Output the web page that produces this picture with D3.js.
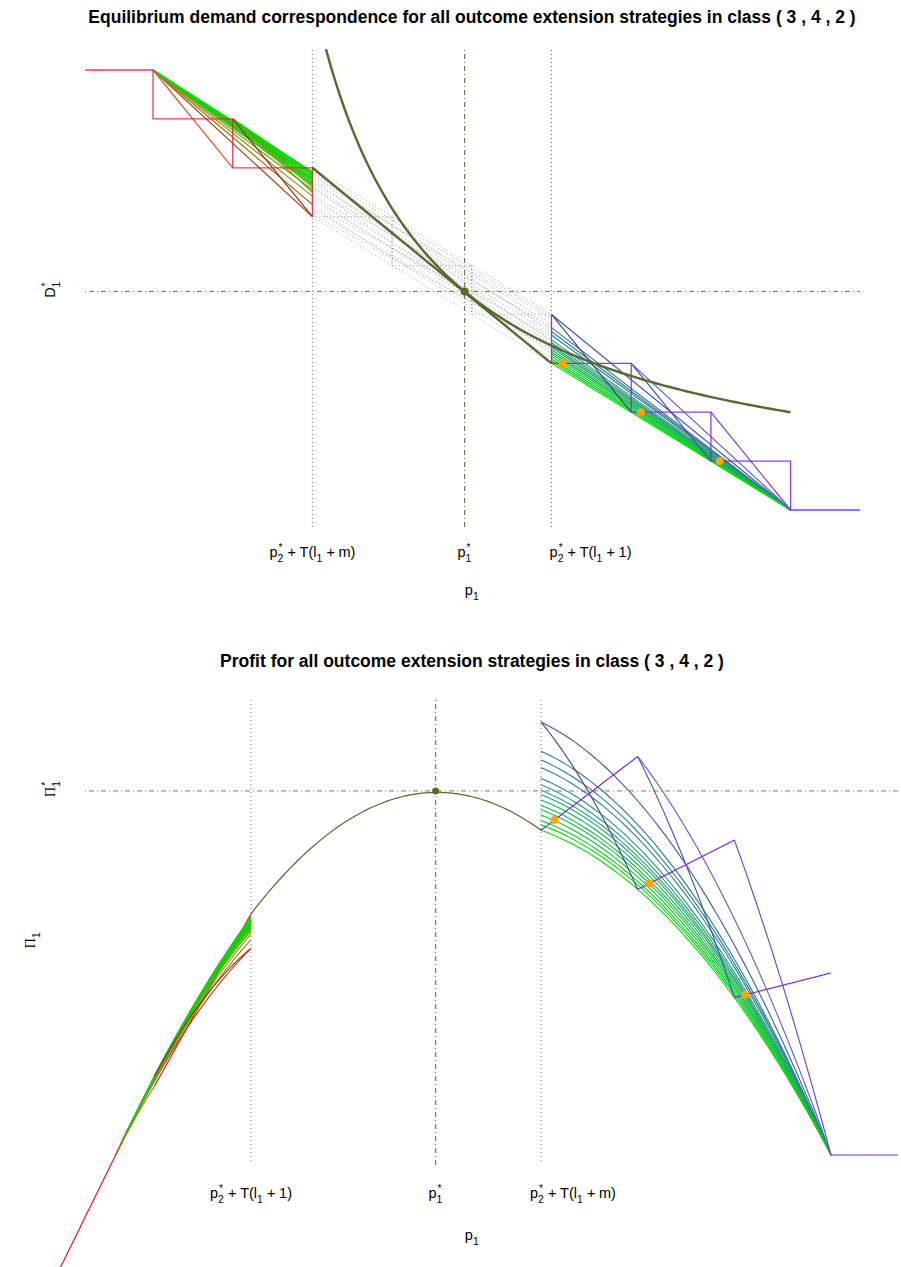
<!DOCTYPE html>
<html>
<head>
<meta charset="utf-8">
<script src="https://cdn.jsdelivr.net/npm/d3@7"></script>
<style>
  body { margin: 0; background: #fff; }
  text { font-family: "Liberation Sans", Arial, Helvetica, sans-serif; fill: #000; }
</style>
</head>
<body>
<svg id="chart" width="901" height="1267"></svg>
<script>
// ---- values (p = price, D = demand, profit = (p - unitCost) * D) ----
const pStar = 4.91, dStar = 4.47;
const unitCost = 1.6;
const piStar = 14.8;

// tick positions and labels
const tickTopP = [3, 4.91, 6.49];
const tickTopLab = ["m", "star", "1"];
const tickBotP = [3, 4.91, 6.33];
const tickBotLab = ["1", "star", "m"];
const refLinesP = [3, 6];

// step demand (left red, middle dotted, right purple)
const redStep = [[0.147, 9], [1, 9], [1, 8], [2, 8], [2, 7], [3, 7], [3, 6]];
const midStep = [[3, 6], [4, 6], [4, 5], [5, 5], [5, 4], [6, 4]];
const purpleStep = [[6, 4], [6, 3], [7, 3], [7, 2], [8, 2], [8, 1], [9, 1], [9, 0], [9.87, 0]];

// left fans: from (1,9) and from (2,8) to D at p = 3
const fanAEnd = [6.0, 6.25, 6.42, 6.55, 6.64, 6.68, 6.72, 6.76, 6.8, 6.84, 6.88, 6.92];
const fanBEnd = [6.5, 6.6, 6.66, 6.72, 6.78, 6.84, 6.9];
// right fan: from D at p = 6 to (9,0)
const fanRStart = [4.0, 3.73, 3.65, 3.58, 3.48, 3.42, 3.37, 3.33, 3.28, 3.23, 3.19, 3.14, 3.09, 3.05, 3.0];

// step diagonals
const diagLeft = [[[1, 9], [2, 7]], [[2, 8], [3, 6]]];
const diagRight = [[[6, 4], [7, 2]], [[7, 3], [8, 1]], [[7, 3], [9, 0]], [[8, 2], [9, 0]]];

// grey dotted band between p = 3 and p = 6
const bandFrom = [7.0, 6.92, 6.85, 6.78, 6.7, 6.62, 6.55, 6.45, 6.35, 6.25, 6.15, 6.0, 6.9, 6.75, 6.6, 6.4, 6.2, 6.05];
const bandTo = [4.0, 3.95, 3.8, 3.9, 3.7, 3.6, 3.75, 3.5, 3.4, 3.55, 3.3, 3.0, 3.65, 3.45, 3.2, 3.25, 3.1, 3.35];

// linear demand through the equilibrium and the iso-profit curve
const eqLine = [[3, 7], [6, 3]];
const isoRange = [3.17, 9];

// orange points
const dotP = [6.14, 7.12, 8.11];
const dotD = [3, 2, 1];

// ---- drawing ----
const svg = d3.select("#chart");
const olive = "#556b2f";

const xT = d3.scaleLinear().domain([1, 9]).range([153, 790.6]);
const yT = d3.scaleLinear().domain([0, 9]).range([510, 70]);
const xB = d3.scaleLinear().domain([6, 9]).range([541, 831]);
const yB = d3.scaleLinear().domain([0, 18]).range([1155, 712.2]);

const profit = (p, d) => (p - unitCost) * d;

function mathLabel(parent, parts, size) {
  const t = parent.append("text").attr("font-size", size);
  let x = 0;
  for (const pt of parts) {
    if (pt.t !== undefined) {
      const s = t.append("tspan").attr("x", x).attr("y", 0).text(pt.t);
      if (pt.serif) s.style("font-family", "'Liberation Serif', 'DejaVu Serif', serif");
      x += s.node().getComputedTextLength();
    } else {
      let w = 0;
      if (pt.sup) {
        const s = t.append("tspan").attr("x", x + 1).attr("y", -size * 0.42).attr("font-size", size * 0.7).text(pt.sup);
        w = Math.max(w, s.node().getComputedTextLength() + 1);
      }
      if (pt.sub) {
        const s = t.append("tspan").attr("x", x).attr("y", size * 0.34).attr("font-size", size * 0.72).text(pt.sub);
        w = Math.max(w, s.node().getComputedTextLength());
      }
      x += w + 0.5;
    }
  }
  t.attr("transform", `translate(${-x / 2},0)`);
  return t;
}

const sp = "\u2005";
const labParts = {
  m: [{t: "p"}, {sup: "*", sub: "2"}, {t: sp + "+" + sp + "T(l"}, {sub: "1"}, {t: sp + "+" + sp + "m)"}],
  "1": [{t: "p"}, {sup: "*", sub: "2"}, {t: sp + "+" + sp + "T(l"}, {sub: "1"}, {t: sp + "+" + sp + "1)"}],
  star: [{t: "p"}, {sup: "*", sub: "1"}]
};
const labSize = 14.5;

// ================= top chart: demand =================
const topG = svg.append("g");

const lineT = d3.line().x(d => xT(d[0])).y(d => yT(d[1]));

// grey dotted band
topG.append("g").selectAll("path").data(d3.zip(bandFrom, bandTo)).join("path")
  .attr("d", d => lineT([[3, d[0]], [6, d[1]]]))
  .attr("fill", "none").attr("stroke", "#a8a8a8").attr("stroke-width", 1)
  .attr("stroke-dasharray", "1,2.5");

// middle step (dotted)
const midG = topG.append("g");
for (let i = 0; i < midStep.length - 1; i++) {
  const a = midStep[i], b = midStep[i + 1];
  const vertical = a[0] === b[0];
  midG.append("path").attr("d", lineT([a, b])).attr("fill", "none")
    .attr("stroke", vertical ? "#b03cc0" : "#b0b0b0").attr("stroke-width", 1.2)
    .attr("stroke-dasharray", "1,2.5");
}

// reference lines
const refG = topG.append("g");
refLinesP.forEach(p => refG.append("line")
  .attr("x1", xT(p)).attr("x2", xT(p)).attr("y1", 50).attr("y2", 527)
  .attr("stroke", "#777").attr("stroke-width", 1).attr("stroke-dasharray", "1,3"));
refG.append("line").attr("x1", xT(pStar)).attr("x2", xT(pStar)).attr("y1", 50).attr("y2", 527)
  .attr("stroke", olive).attr("stroke-width", 1).attr("stroke-dasharray", "1,3,5,3");
refG.append("line").attr("x1", 85).attr("x2", 860).attr("y1", yT(dStar)).attr("y2", yT(dStar))
  .attr("stroke", olive).attr("stroke-width", 1).attr("stroke-opacity", 0.85).attr("stroke-dasharray", "1,3,5,3");

// colour scales
const leftCol = d3.scaleLinear().domain([6.0, 6.25, 6.42, 6.55, 6.7, 6.92])
  .range(["#a84400", "#a07810", "#8c9010", "#60a800", "#20c800", "#00e000"]);
const rightCol = d3.scaleLinear().domain([3.0, 3.2, 3.4, 3.6, 4.0])
  .range(["#00e000", "#10c040", "#20a070", "#2a8090", "#3c5aa8"]);

// left fans
topG.append("g").selectAll("path").data(fanAEnd).join("path")
  .attr("d", d => lineT([[1, 9], [3, d]]))
  .attr("fill", "none").attr("stroke", d => leftCol(d)).attr("stroke-width", 1.2);
topG.append("g").selectAll("path").data(fanBEnd).join("path")
  .attr("d", d => lineT([[2, 8], [3, d]]))
  .attr("fill", "none").attr("stroke", d => leftCol(d)).attr("stroke-width", 1.2);
const diagLCol = ["#e2542a", "#a02828"];
topG.append("g").selectAll("path").data(diagLeft).join("path")
  .attr("d", d => lineT(d))
  .attr("fill", "none").attr("stroke", (d, i) => diagLCol[i]).attr("stroke-width", 1.2);

// right fan
topG.append("g").selectAll("path").data(fanRStart).join("path")
  .attr("d", d => lineT([[6, d], [9, 0]]))
  .attr("fill", "none").attr("stroke", d => rightCol(d)).attr("stroke-width", 1.2);
const diagRCol = ["#4a3c98", "#3f55a8", "#5a5ad8", "#6a3de0"];
topG.append("g").selectAll("path").data(diagRight).join("path")
  .attr("d", d => lineT(d))
  .attr("fill", "none").attr("stroke", (d, i) => diagRCol[i]).attr("stroke-width", 1.2);

// steps
topG.append("path").attr("d", lineT(redStep)).attr("fill", "none")
  .attr("stroke", "#e0203c").attr("stroke-opacity", 0.85).attr("stroke-width", 1.3);
topG.append("path").attr("d", lineT(purpleStep)).attr("fill", "none")
  .attr("stroke", "#7b2be0").attr("stroke-opacity", 0.9).attr("stroke-width", 1.3);

// equilibrium line and iso-profit curve
topG.append("path").attr("d", lineT(eqLine)).attr("fill", "none")
  .attr("stroke", olive).attr("stroke-width", 2.4);
const isoPts = d3.range(0, 101).map(i => {
  const p = isoRange[0] + (isoRange[1] - isoRange[0]) * i / 100;
  return [p, piStar / (p - unitCost)];
});
topG.append("path").attr("d", lineT(isoPts)).attr("fill", "none")
  .attr("stroke", olive).attr("stroke-width", 2.4);

// points
topG.append("circle").attr("cx", xT(pStar)).attr("cy", yT(dStar)).attr("r", 4).attr("fill", olive);
topG.append("g").selectAll("circle").data(d3.zip(dotP, dotD)).join("circle")
  .attr("cx", d => xT(d[0])).attr("cy", d => yT(d[1])).attr("r", 4).attr("fill", "#ffa500");

// labels
svg.append("text").attr("x", 472).attr("y", 23).attr("text-anchor", "middle")
  .attr("font-size", 17.5).attr("font-weight", "bold")
  .text("Equilibrium demand correspondence for all outcome extension strategies in class ( 3 , 4 , 2 )");
tickTopP.forEach((p, i) => {
  const g = svg.append("g").attr("transform", `translate(${xT(p)},557)`);
  mathLabel(g, labParts[tickTopLab[i]], labSize);
});
mathLabel(svg.append("g").attr("transform", "translate(472,595)"), [{t: "p"}, {sub: "1"}], labSize);
mathLabel(svg.append("g").attr("transform", `translate(55,${yT(dStar) - 2}) rotate(-90)`),
  [{t: "D"}, {sup: "*", sub: "1"}], labSize);

// ================= bottom chart: profit =================
const defs = svg.append("defs");
defs.append("clipPath").attr("id", "clipB")
  .append("rect").attr("x", 0).attr("y", 680).attr("width", 898).attr("height", 600);
defs.append("clipPath").attr("id", "clipFan")
  .append("rect").attr("x", 0).attr("y", 680).attr("width", 898).attr("height", yB(0) - 680);
const botG = svg.append("g");
const botC = botG.append("g").attr("clip-path", "url(#clipB)");
const botF = botG.append("g").attr("clip-path", "url(#clipFan)");

const lineB = d3.line().x(d => xB(d[0])).y(d => yB(d[1]));
// profit along a straight demand segment
function profitPath(a, b) {
  const pts = d3.range(0, 61).map(i => {
    const t = i / 60;
    const p = a[0] + (b[0] - a[0]) * t;
    const d = a[1] + (b[1] - a[1]) * t;
    return [p, profit(p, d)];
  });
  return lineB(pts);
}

// reference lines
refLinesP.forEach(p => botG.append("line")
  .attr("x1", xB(p)).attr("x2", xB(p)).attr("y1", 700).attr("y2", 1162)
  .attr("stroke", "#777").attr("stroke-width", 1).attr("stroke-dasharray", "1,3"));
botG.append("line").attr("x1", xB(pStar)).attr("x2", xB(pStar)).attr("y1", 700).attr("y2", 1166)
  .attr("stroke", olive).attr("stroke-width", 1).attr("stroke-dasharray", "1,3,5,3");
botG.append("line").attr("x1", 85).attr("x2", 898).attr("y1", yB(piStar)).attr("y2", yB(piStar))
  .attr("stroke", olive).attr("stroke-width", 1).attr("stroke-opacity", 0.85).attr("stroke-dasharray", "1,3,5,3");

// left fans
botF.append("g").selectAll("path").data(fanAEnd).join("path")
  .attr("d", d => profitPath([1, 9], [3, d]))
  .attr("fill", "none").attr("stroke", d => leftCol(d)).attr("stroke-width", 1.1);
botF.append("g").selectAll("path").data(fanBEnd).join("path")
  .attr("d", d => profitPath([2, 8], [3, d]))
  .attr("fill", "none").attr("stroke", d => leftCol(d)).attr("stroke-width", 1.1);
botF.append("g").selectAll("path").data(diagLeft).join("path")
  .attr("d", d => profitPath(d[0], d[1]))
  .attr("fill", "none").attr("stroke", (d, i) => diagLCol[i]).attr("stroke-width", 1.1);

// right fan
botC.append("g").selectAll("path").data(fanRStart).join("path")
  .attr("d", d => profitPath([6, d], [9, 0]))
  .attr("fill", "none").attr("stroke", d => rightCol(d)).attr("stroke-width", 1.1);
botC.append("g").selectAll("path").data(diagRight).join("path")
  .attr("d", d => profitPath(d[0], d[1]))
  .attr("fill", "none").attr("stroke", (d, i) => diagRCol[i]).attr("stroke-width", 1.1);

// flat parts of the steps
function flatSegments(step) {
  const segs = [];
  for (let i = 0; i < step.length - 1; i++)
    if (step[i][1] === step[i + 1][1]) segs.push([step[i], step[i + 1]]);
  return segs;
}
botC.append("g").selectAll("path").data(flatSegments(redStep)).join("path")
  .attr("d", d => profitPath(d[0], d[1]))
  .attr("fill", "none").attr("stroke", "#f01030").attr("stroke-width", 1.2);
botC.append("g").selectAll("path").data(flatSegments(purpleStep)).join("path")
  .attr("d", d => profitPath(d[0], d[1]))
  .attr("fill", "none").attr("stroke", "#7b2be0").attr("stroke-width", 1.2);

// equilibrium profit curve
botC.append("path").attr("d", profitPath(eqLine[0], eqLine[1])).attr("fill", "none")
  .attr("stroke", olive).attr("stroke-width", 1.2);

botG.append("circle").attr("cx", xB(pStar)).attr("cy", yB(piStar)).attr("r", 3.5).attr("fill", olive);
botG.append("g").selectAll("circle").data(d3.zip(dotP, dotD)).join("circle")
  .attr("cx", d => xB(d[0])).attr("cy", d => yB(profit(d[0], d[1]))).attr("r", 4).attr("fill", "#ffa500");

svg.append("text").attr("x", 472).attr("y", 667).attr("text-anchor", "middle")
  .attr("font-size", 17.5).attr("font-weight", "bold")
  .text("Profit for all outcome extension strategies in class ( 3 , 4 , 2 )");
tickBotP.forEach((p, i) => {
  const g = svg.append("g").attr("transform", `translate(${xB(p)},1198)`);
  mathLabel(g, labParts[tickBotLab[i]], labSize);
});
mathLabel(svg.append("g").attr("transform", "translate(472,1240)"), [{t: "p"}, {sub: "1"}], labSize);
mathLabel(svg.append("g").attr("transform", `translate(55,${yB(piStar) - 2}) rotate(-90)`),
  [{t: "\u03a0", serif: true}, {sup: "*", sub: "1"}], labSize);
mathLabel(svg.append("g").attr("transform", "translate(35,940) rotate(-90)"),
  [{t: "\u03a0", serif: true}, {sub: "1"}], labSize);
</script>
</body>
</html>
